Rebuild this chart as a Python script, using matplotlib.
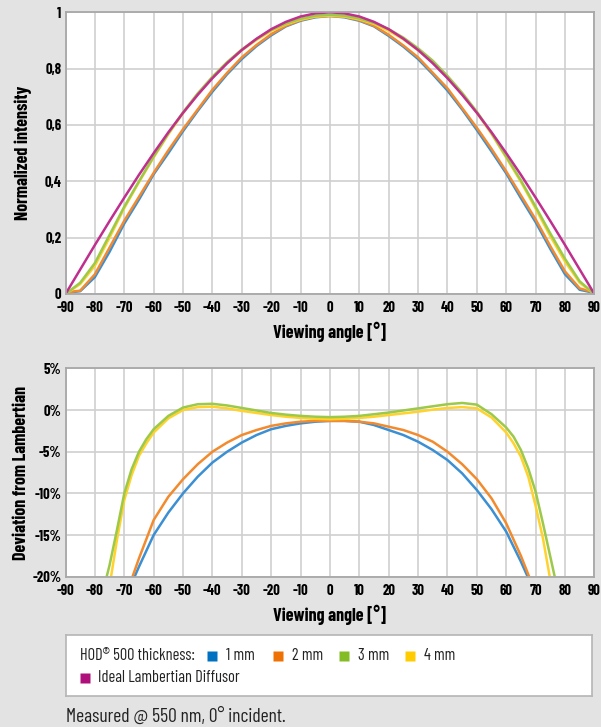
import matplotlib
matplotlib.use("Agg")
import matplotlib.pyplot as plt

# ---- data ----
angles_top = [-90, -85, -80, -75, -70, -65, -60, -55, -50, -45, -40, -35, -30, -25, -20, -15, -10, -5, 0,
              5, 10, 15, 20, 25, 30, 35, 40, 45, 50, 55, 60, 65, 70, 75, 80, 85, 90]

top_lambert = [0.0, 0.087, 0.174, 0.259, 0.342, 0.423, 0.5, 0.574, 0.643, 0.707, 0.766, 0.819, 0.866, 0.906, 0.94, 0.966, 0.985, 0.996, 1.0,
               0.996, 0.985, 0.966, 0.94, 0.906, 0.866, 0.819, 0.766, 0.707, 0.643, 0.574, 0.5, 0.423, 0.342, 0.259, 0.174, 0.087, 0.0]
top_1mm = [0.004, 0.01, 0.06, 0.15, 0.25, 0.335, 0.425, 0.5, 0.578, 0.65, 0.718, 0.78, 0.834, 0.88, 0.918, 0.95, 0.97, 0.982, 0.987,
           0.982, 0.97, 0.95, 0.916, 0.878, 0.834, 0.78, 0.722, 0.655, 0.582, 0.506, 0.428, 0.34, 0.255, 0.16, 0.07, 0.015, 0.004]
top_2mm = [0.005, 0.012, 0.07, 0.165, 0.26, 0.345, 0.43, 0.51, 0.585, 0.655, 0.725, 0.785, 0.84, 0.884, 0.922, 0.952, 0.972, 0.984, 0.987,
           0.984, 0.972, 0.952, 0.92, 0.882, 0.84, 0.785, 0.73, 0.66, 0.59, 0.515, 0.435, 0.35, 0.265, 0.17, 0.08, 0.02, 0.005]
top_3mm = [0.0, 0.04, 0.11, 0.21, 0.31, 0.4, 0.488, 0.57, 0.645, 0.712, 0.771, 0.823, 0.868, 0.905, 0.937, 0.96, 0.977, 0.988, 0.991,
           0.988, 0.978, 0.962, 0.94, 0.91, 0.872, 0.828, 0.774, 0.714, 0.647, 0.571, 0.488, 0.403, 0.31, 0.215, 0.125, 0.045, 0.0]
top_4mm = [0.0, 0.035, 0.1, 0.2, 0.305, 0.397, 0.485, 0.567, 0.642, 0.709, 0.768, 0.82, 0.865, 0.902, 0.934, 0.957, 0.974, 0.985, 0.988,
           0.985, 0.975, 0.959, 0.934, 0.904, 0.865, 0.822, 0.768, 0.71, 0.644, 0.568, 0.484, 0.398, 0.303, 0.205, 0.115, 0.04, 0.0]

ang_1mm = [-66.5, -65, -60, -55, -50, -45, -40, -35, -30, -25, -20, -15, -10, -5, 0, 5, 10, 15, 20, 25, 30, 35, 40, 45, 50, 55, 60, 65, 67.3]
dev_1mm = [-20, -18.8, -15.0, -12.3, -10.0, -8.0, -6.3, -5.0, -3.9, -3.0, -2.3, -1.9, -1.6, -1.4, -1.3,
           -1.3, -1.4, -1.8, -2.4, -3.0, -3.8, -4.8, -6.0, -7.6, -9.6, -11.9, -14.6, -18.2, -20]
ang_2mm = [-67.2, -65, -60, -55, -50, -45, -40, -35, -30, -25, -20, -15, -10, -5, 0, 5, 10, 15, 20, 25, 30, 35, 40, 45, 50, 55, 60, 65, 67.8]
dev_2mm = [-20, -17.8, -13.2, -10.4, -8.3, -6.5, -5.0, -3.9, -3.0, -2.4, -1.9, -1.6, -1.4, -1.3, -1.3,
           -1.3, -1.4, -1.6, -2.0, -2.4, -3.0, -3.8, -5.0, -6.5, -8.3, -10.6, -13.6, -17.5, -20]
ang_3mm = [-76, -75, -72.5, -70, -67.5, -65, -62.5, -60, -55, -50, -45, -40, -35, -30, -25, -20, -15, -10, -5, 0,
           5, 10, 15, 20, 25, 30, 35, 40, 45, 50, 55, 60, 62.5, 65, 67.5, 70, 72.5, 75, 76.5]
dev_3mm = [-20, -18.6, -14.4, -10.0, -7.1, -5.0, -3.5, -2.3, -0.7, 0.3, 0.7, 0.75, 0.55, 0.25, -0.05, -0.35, -0.55, -0.7, -0.8, -0.85,
           -0.8, -0.7, -0.5, -0.3, -0.05, 0.2, 0.45, 0.7, 0.85, 0.65, -0.5, -2.1, -3.2, -4.8, -7.0, -9.8, -13.6, -17.6, -20]
ang_4mm = [-74.5, -72.5, -70, -67.5, -65, -62.5, -60, -55, -50, -45, -40, -35, -30, -25, -20, -15, -10, -5, 0,
           5, 10, 15, 20, 25, 30, 35, 40, 45, 50, 55, 60, 62.5, 65, 67.5, 70, 72.5, 74.8]
dev_4mm = [-20, -15.6, -10.8, -7.8, -5.5, -4.0, -2.7, -1.0, 0.0, 0.35, 0.4, 0.2, -0.1, -0.35, -0.6, -0.8, -0.95, -1.05, -1.1,
           -1.05, -0.95, -0.8, -0.6, -0.4, -0.2, 0.05, 0.25, 0.35, 0.2, -0.9, -2.7, -4.0, -5.6, -8.0, -11.5, -15.4, -20]

x_ticks = list(range(-90, 91, 10))
top_yticks = [0, 0.2, 0.4, 0.6, 0.8, 1.0]
top_ylabels = ["0", "0,2", "0,4", "0,6", "0,8", "1"]
bot_yticks = [5, 0, -5, -10, -15, -20]
bot_ylabels = ["5%", "0%", "-5%", "-10%", "-15%", "-20%"]

legend_names = ["1 mm", "2 mm", "3 mm", "4 mm"]
line_colors = ["#3b8fd2", "#f28a2e", "#9cc94a", "#ffd22e", "#bf2f8e"]
key_colors = ["#0070c0", "#ee7203", "#84bc25", "#ffcc00", "#ae0f7a"]

BG = "#e3e3e3"
GRID = "#cfcfcf"
SPINE = "#a8a8a8"

plt.rcParams["font.family"] = ["Barlow Condensed", "DejaVu Sans"]


def style_axes(ax, yticks, ylabels, ylim):
    ax.set_facecolor("white")
    ax.set_xlim(-90, 90)
    ax.set_ylim(*ylim)
    ax.set_xticks(x_ticks)
    ax.set_xticklabels([str(t) for t in x_ticks], fontsize=10.5, fontweight="bold")
    ax.set_yticks(yticks)
    ax.set_yticklabels(ylabels, fontsize=10.5, fontweight="bold")
    ax.tick_params(length=0, pad=3)
    ax.tick_params(axis="x", pad=5)
    ax.grid(True, color=GRID, lw=1.2)
    ax.set_axisbelow(True)
    for s in ax.spines.values():
        s.set_color(SPINE)
        s.set_linewidth(1.3)
    ax.set_xlabel("Viewing angle [°]", fontsize=13, fontweight="bold", labelpad=5)


def main():
    fig = plt.figure(figsize=(6.01, 7.27), dpi=100, facecolor=BG)

    # upper chart
    ax1 = fig.add_axes([0.109, 0.5956, 0.880, 0.3875])
    tops = [top_1mm, top_2mm, top_4mm, top_3mm, top_lambert]
    cols = [line_colors[0], line_colors[1], line_colors[3], line_colors[2], line_colors[4]]
    for vals, c in zip(tops, cols):
        ax1.plot(angles_top, vals, color=c, lw=1.8, solid_capstyle="round")
    style_axes(ax1, top_yticks, top_ylabels, (0, 1))
    ax1.set_ylabel("Normalized intensity", fontsize=13, fontweight="bold", labelpad=9)

    # lower chart
    ax2 = fig.add_axes([0.109, 0.2067, 0.880, 0.2866])
    ax2.plot(ang_1mm, dev_1mm, color=line_colors[0], lw=1.8)
    ax2.plot(ang_2mm, dev_2mm, color=line_colors[1], lw=1.8)
    ax2.plot(ang_4mm, dev_4mm, color=line_colors[3], lw=1.8)
    ax2.plot(ang_3mm, dev_3mm, color=line_colors[2], lw=1.8)
    style_axes(ax2, bot_yticks, bot_ylabels, (-20, 5))
    ax2.set_ylabel("Deviation from Lambertian", fontsize=13, fontweight="bold", labelpad=2)

    # legend box
    lax = fig.add_axes([66 / 601, 1 - 696 / 727, 526 / 601, 61 / 727])
    lax.set_xlim(0, 526)
    lax.set_ylim(61, 0)
    lax.set_xticks([])
    lax.set_yticks([])
    lax.set_facecolor("white")
    for s in lax.spines.values():
        s.set_color("#b5b5b5")
        s.set_linewidth(1.2)
    lax.text(14.5, 21, "HOD® 500 thickness:", fontsize=11.8, va="center", color="#222222")
    sq_x = [145.5, 212.3, 278, 344]
    for i in range(4):
        lax.plot(sq_x[i], 20.5, marker="s", ms=6.5, color=key_colors[i], mec="none")
        lax.text(sq_x[i] + 14, 21, legend_names[i], fontsize=11.8, va="center", color="#222222")
    lax.plot(19, 42.5, marker="s", ms=6.5, color=key_colors[4], mec="none")
    lax.text(32.5, 43, "Ideal Lambertian Diffusor", fontsize=11.8, va="center", color="#222222")

    fig.text(66 / 601, 1 - 717 / 727, "Measured @ 550 nm, 0° incident.", fontsize=14,
             va="center", ha="left", color="#222222")

    fig.savefig("out.png", dpi=100, facecolor=BG)


if __name__ == "__main__":
    main()
